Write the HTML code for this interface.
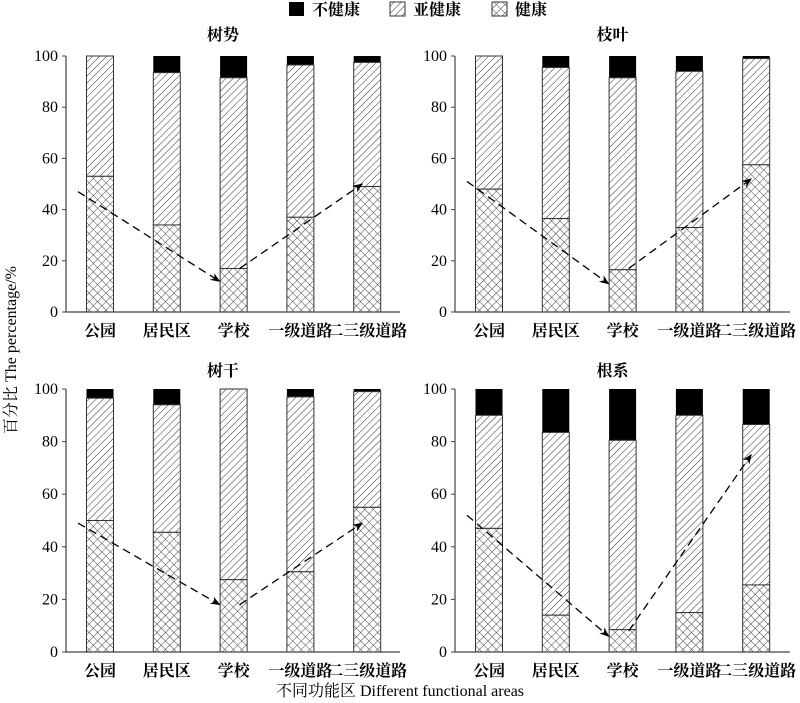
<!DOCTYPE html>
<html><head><meta charset="utf-8"><style>
body{margin:0;background:#fff}
svg{display:block;font-family:"Liberation Serif","Noto Serif CJK SC",serif}
</style></head><body>
<svg id="chart" width="800" height="703" viewBox="0 0 800 703">
<defs>
<pattern id="hatch" patternUnits="userSpaceOnUse" width="5" height="5" patternTransform="rotate(45)">
<rect width="5" height="5" fill="#fff"/><line x1="0" y1="0" x2="0" y2="5" stroke="#333" stroke-width="1"/></pattern>
<pattern id="cross" patternUnits="userSpaceOnUse" width="6" height="6" patternTransform="rotate(45)">
<rect width="6" height="6" fill="#fff"/><line x1="0" y1="0" x2="0" y2="6" stroke="#333" stroke-width="0.9"/><line x1="0" y1="0" x2="6" y2="0" stroke="#333" stroke-width="0.9"/></pattern>
<marker id="arr" markerWidth="10" markerHeight="8" refX="9" refY="4" orient="auto" markerUnits="userSpaceOnUse">
<path d="M0,0 L10,4 L0,8 L3,4 Z" fill="#000"/></marker>
</defs>
<g>
<rect x="289" y="2" width="15" height="14" fill="#000"/>
<text x="312" y="15" font-size="16" font-weight="bold">不健康</text>
<rect x="390" y="2" width="15" height="14" fill="url(#hatch)" stroke="#333"/>
<text x="413" y="15" font-size="16" font-weight="bold">亚健康</text>
<rect x="492" y="2" width="15" height="14" fill="url(#cross)" stroke="#333"/>
<text x="515" y="15" font-size="16" font-weight="bold">健康</text>
</g>
<text transform="translate(16,350) rotate(-90)" text-anchor="middle" font-size="16">百分比 The percentage/%</text>
<text x="400" y="696" text-anchor="middle" font-size="16">不同功能区 Different functional areas</text>
</svg>
<script>
const categories=["公园","居民区","学校","一级道路","二三级道路"];
const panelTitles=["树势","枝叶","树干","根系"];
const healthy1=[53,34,17,37,49];
const subTop1=[100,93.5,91.5,96.5,97.5];
const healthy2=[48,36.5,16.5,33,57.5];
const subTop2=[100,95.5,91.5,94,99];
const healthy3=[50,45.5,27.5,30.5,55];
const subTop3=[96.5,94,100,97,99];
const healthy4=[47,14,8.5,15,25.5];
const subTop4=[90,83.5,80.5,90,86.5];
const arrowY1=[[47,12],[17,50]];
const arrowY2=[[51,11],[17,52]];
const arrowY3=[[49,18],[18,49]];
const arrowY4=[[52,6],[8,75]];
const yTicks=[0,20,40,60,80,100];

const healthyAll=[healthy1,healthy2,healthy3,healthy4];
const subAll=[subTop1,subTop2,subTop3,subTop4];
const arrowsAll=[arrowY1,arrowY2,arrowY3,arrowY4];
const panels=[{x0:66,x1:400,yTop:56,yBot:312,titleY:40},{x0:455,x1:790,yTop:56,yBot:312,titleY:40},
{x0:66,x1:400,yTop:389,yBot:652,titleY:376},{x0:455,x1:790,yTop:389,yBot:652,titleY:376}];
const svg=document.getElementById('chart');
const NS='http://www.w3.org/2000/svg';
function mk(tag,attrs,parent){const e=document.createElementNS(NS,tag);for(const k in attrs)e.setAttribute(k,attrs[k]);parent.appendChild(e);return e;}
panels.forEach((p,pi)=>{
  const g=mk('g',{},svg);
  
  
  const yS=v=>p.yBot-(p.yBot-p.yTop)*v/100;
  const xC=i=>p.x0+34+i*66.8;
  const bw=27;
  const t=mk('text',{x:(p.x0+p.x1)/2-10,y:p.titleY,'text-anchor':'middle','font-size':16,'font-weight':'bold'},g);
  t.textContent=panelTitles[pi];
  
  
  categories.forEach((c,i)=>{
    const h=healthyAll[pi][i],s=subAll[pi][i],x=xC(i)-bw/2;
    const r1=mk('rect',{x:x,y:yS(100),width:bw,height:yS(s)-yS(100),fill:'#000'},g);
    
    
    const r2=mk('rect',{x:x,y:yS(s),width:bw,height:yS(h)-yS(s),fill:'url(#hatch)',stroke:'#333','stroke-width':1},g);
    
    
    const r3=mk('rect',{x:x,y:yS(h),width:bw,height:yS(0)-yS(h),fill:'url(#cross)',stroke:'#333','stroke-width':1},g);
    
    
    const l=mk('text',{x:xC(i),y:p.yBot+24,'text-anchor':'middle','font-size':16,'font-weight':'bold'},g);
    l.textContent=c;
    
    
  });
  const ax=mk('path',{d:`M${p.x0},${p.yTop} V${p.yBot} H${p.x1}`,fill:'none',stroke:'#444','stroke-width':1.2},g);
  
  
  yTicks.forEach(v=>{
    mk('line',{x1:p.x0-4,x2:p.x0,y1:yS(v),y2:yS(v),stroke:'#444'},g);
    const tl=mk('text',{x:p.x0-8,y:yS(v)+5,'text-anchor':'end','font-size':16},g);
    tl.textContent=v;
    
    
  });
  const a=arrowsAll[pi];
  const l1=mk('line',{x1:xC(0)-22,y1:yS(a[0][0]),x2:xC(2)-14,y2:yS(a[0][1]),stroke:'#000','stroke-width':1.3,'stroke-dasharray':'8,5','marker-end':'url(#arr)'},g);
  
  
  const l2=mk('line',{x1:xC(2)+6,y1:yS(a[1][0]),x2:xC(4)-5,y2:yS(a[1][1]),stroke:'#000','stroke-width':1.3,'stroke-dasharray':'8,5','marker-end':'url(#arr)'},g);
  
  
});
</script>
</body></html>
